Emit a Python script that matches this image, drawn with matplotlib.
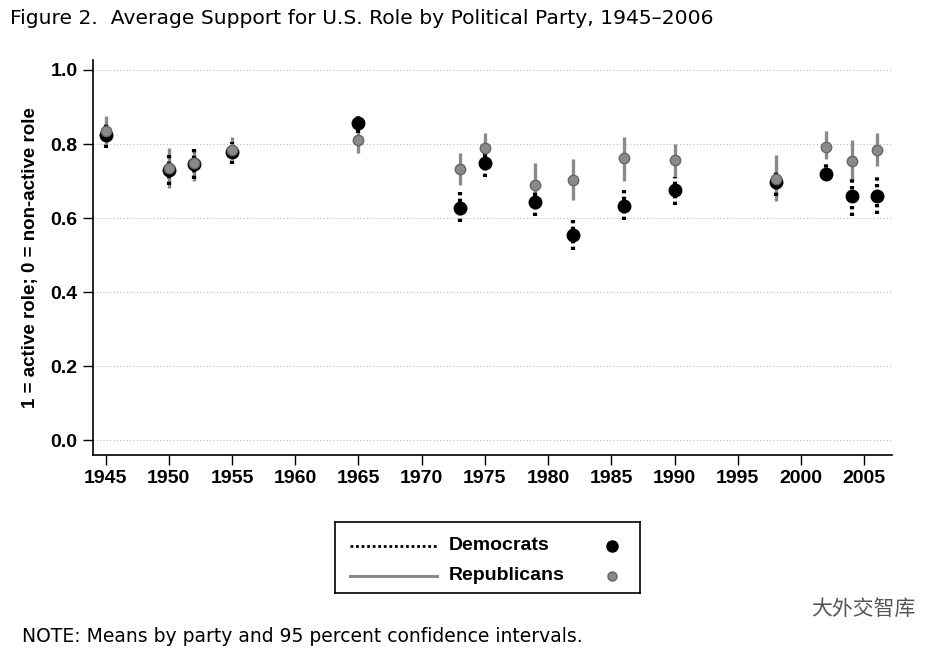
import matplotlib
matplotlib.use("Agg")
import matplotlib.pyplot as plt
from matplotlib.lines import Line2D
import numpy as np

years = [1945, 1950, 1952, 1955, 1965, 1973, 1975, 1979, 1982, 1986, 1990, 1998, 2002, 2004, 2006]
dem_mean = [0.825, 0.730, 0.745, 0.778, 0.857, 0.628, 0.748, 0.643, 0.555, 0.632, 0.675, 0.697, 0.720, 0.660, 0.660]
dem_lo = [0.790, 0.690, 0.705, 0.745, 0.830, 0.590, 0.710, 0.605, 0.515, 0.595, 0.635, 0.660, 0.700, 0.605, 0.610]
dem_hi = [0.855, 0.770, 0.790, 0.805, 0.880, 0.670, 0.785, 0.680, 0.600, 0.680, 0.710, 0.730, 0.745, 0.710, 0.710]
rep_mean = [0.835, 0.735, 0.750, 0.785, 0.810, 0.733, 0.790, 0.690, 0.703, 0.762, 0.757, 0.705, 0.793, 0.755, 0.785]
rep_lo = [0.800, 0.680, 0.700, 0.760, 0.775, 0.690, 0.750, 0.645, 0.650, 0.700, 0.710, 0.645, 0.760, 0.700, 0.740]
rep_hi = [0.875, 0.790, 0.780, 0.820, 0.845, 0.775, 0.830, 0.750, 0.760, 0.820, 0.800, 0.770, 0.835, 0.810, 0.830]
xticks = list(range(1945, 2006, 5))
yticks = [0.0, 0.2, 0.4, 0.6, 0.8, 1.0]

plt.rcParams['font.family'] = ['Liberation Sans', 'DejaVu Sans']
W, H = 948, 654
fig = plt.figure(figsize=(W/100, H/100), dpi=100)
ax = fig.add_axes([93/W, 1-455/H, (892-93)/W, (455-60)/H])

ax.set_xlim(1944.0, 2007.2)
ax.set_ylim(-0.04, 1.027)
for y in yticks:
    ax.axhline(y, color='#bbbbbb', lw=0.8, ls=(0, (1, 2)), zorder=0)

rep_col = '#8a8a8a'
ax.vlines(years, rep_lo, rep_hi, color=rep_col, lw=2.4, zorder=2)
ax.vlines(years, dem_lo, dem_hi, color='black', lw=3, linestyles=[(0, (0.8, 0.8))], zorder=3)
ax.plot(years, dem_mean, 'o', color='black', ms=9, zorder=4, ls='none')
ax.plot(years, rep_mean, 'o', color=rep_col, ms=7.5, mec='#666666', mew=1, zorder=5, ls='none')

ax.set_xticks(xticks)
ax.set_yticks(yticks)
ax.set_yticklabels([f"{v:.1f}" for v in yticks])
ax.tick_params(axis='both', labelsize=14, length=7, width=1, colors='black', pad=4)
for lab in ax.get_xticklabels() + ax.get_yticklabels():
    lab.set_fontweight('bold')
    lab.set_fontfamily('Liberation Sans')
for s in ['top', 'right']:
    ax.spines[s].set_visible(False)
ax.spines['left'].set_linewidth(1.2)
ax.spines['bottom'].set_linewidth(1.2)
ax.set_ylabel('1 = active role; 0 = non-active role', fontsize=13.5, fontweight='bold',
              labelpad=8, family='Liberation Sans')

fig.text(10/W, 1-18/H, 'Figure 2.  Average Support for U.S. Role by Political Party, 1945\u20132006',
         fontsize=14.6, va='center', ha='left', family=['DejaVu Sans'])

# Legend box
lax = fig.add_axes([335/W, 1-593/H, (640-335)/W, (593-522)/H])
lax.set_xlim(0, 305)
lax.set_ylim(71, 0)
lax.set_xticks([])
lax.set_yticks([])
for s in lax.spines.values():
    s.set_linewidth(1.2)
lax.add_line(Line2D([15, 102], [24, 24], color='black', lw=2, ls=(0, (1, 1))))
lax.add_line(Line2D([15, 102], [54, 54], color=rep_col, lw=2.2))
lax.text(114, 24, 'Democrats', fontsize=14, fontweight='bold', va='center', family='Liberation Sans')
lax.text(114, 54, 'Republicans', fontsize=14, fontweight='bold', va='center', family='Liberation Sans')
lax.plot([277], [24], 'o', color='black', ms=8)
lax.plot([277], [54], 'o', color=rep_col, ms=6.5, mec='#666666')

fig.text(22/W, 1-636/H, 'NOTE: Means by party and 95 percent confidence intervals.', fontsize=13.5,
         va='center', ha='left', family=['DejaVu Sans'])
fig.text(915/W, 1-609/H, '大外交智库', fontsize=15, color='#555555', va='center', ha='right',
         family=['Noto Sans CJK SC', 'DejaVu Sans'])

fig.savefig('out.png', dpi=100)
